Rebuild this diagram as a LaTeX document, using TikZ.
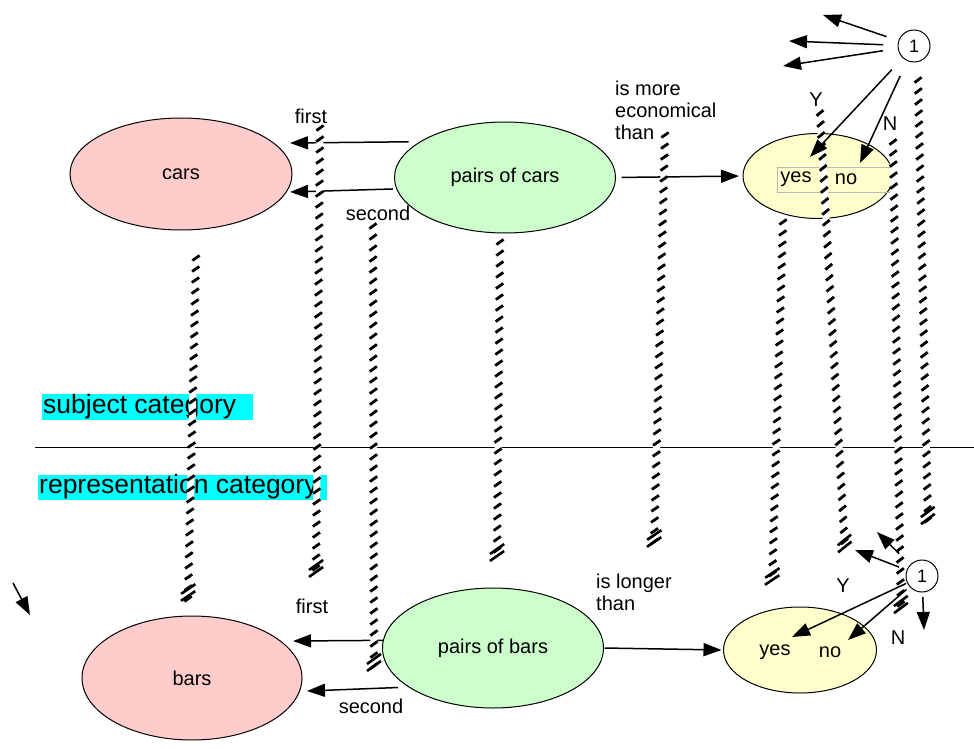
\documentclass[tikz,border=0pt]{standalone}
\usepackage{fontspec}
\setmainfont{Liberation Sans}
\usetikzlibrary{shapes.geometric,arrows.meta,decorations.markings}

\definecolor{carpink}{RGB}{255,204,204}
\definecolor{pairgreen}{RGB}{204,255,204}
\definecolor{answeryellow}{RGB}{255,255,204}
\definecolor{labelcyan}{RGB}{0,255,255}

\tikzset{
  every node/.style={font=\fontsize{20}{22}\selectfont},
  blob/.style={ellipse, draw, line width=1pt, inner sep=0pt, outer sep=0pt},
  arr/.style={-{Triangle[length=18pt,width=13pt]}, line width=1.5pt},
  hatch/.style={
    preaction={draw=white, line width=7pt},
    postaction={decorate, decoration={markings,
      mark=between positions 0 and 1 step 11pt with
        {\draw[line width=2.8pt] (2.6pt,-3.6pt) -- (-2.6pt,3.6pt);}}},
    postaction={decorate, decoration={markings,
      mark=at position 1 with
        {\draw[line width=2.6pt] (1pt,-7pt) -- (-9pt,7pt);
         \draw[line width=2.6pt] (-6pt,-7pt) -- (-16pt,7pt);}}}
  },
  num/.style={circle, draw, line width=1pt, minimum size=32pt, inner sep=0pt,
    outer sep=0pt, font=\fontsize{18}{20}\selectfont},
  catlabel/.style={anchor=base west, inner sep=0pt, font=\fontsize{26.5}{28}\selectfont},
  multiline/.style={align=left, anchor=north west, inner sep=0pt}
}

\begin{document}
\begin{tikzpicture}[x=1pt,y=-1pt]
\useasboundingbox (0,0) rectangle (974,749);

% categories and concepts
\node[blob, fill=carpink, minimum width=222pt, minimum height=112pt] (cars) at (181,174) {cars};
\node[blob, fill=pairgreen, minimum width=221pt, minimum height=111pt] (pc) at (505,177.5) {pairs of cars};
\node[blob, fill=answeryellow, minimum width=150pt, minimum height=85pt] (yn1) at (818,176) {};
\node[blob, fill=carpink, minimum width=220pt, minimum height=124pt] (bars) at (192,678) {bars};
\node[blob, fill=pairgreen, minimum width=221pt, minimum height=120pt] (pb) at (493,648) {pairs of bars};
\node[blob, fill=answeryellow, minimum width=153pt, minimum height=86pt] (yn2) at (800,650) {};

% answer texts
\draw[gray!55, line width=0.8pt] (777,167) rectangle (893,192);
\node (yes1) at (796,179) {yes};
\node (no1) at (846,179) {no};
\node (yes2) at (775,652) {yes};
\node (no2) at (830,652) {no};

% separating line and category labels
\coordinate (hl1) at (35,447);
\coordinate (hl2) at (974,447);
\draw[line width=1pt] (hl1) -- (hl2);
\fill[labelcyan] (42,394) rectangle (253,420);
\node[catlabel] (subj) at (43,413) {subject category};
\fill[labelcyan] (38,475) rectangle (327,500);
\node[catlabel] (repr) at (39,493) {representation category};

% relation labels
\node (first1) at (311,116) {first};
\node (second1) at (378,213) {second};
\node[multiline] (econ) at (615,81) {is more\\economical\\than};
\node (first2) at (312,606) {first};
\node (second2) at (371,706) {second};
\node[multiline] (longer) at (596,574) {is longer\\than};
\node (Y1) at (816,100) {Y};
\node (N1) at (890,124) {N};
\node (Y2) at (843,586) {Y};
\node (N2) at (898,638) {N};

% projections
\coordinate (f1tip) at (290,143);
\coordinate (s1tip) at (290,192);
\coordinate (f2tip) at (293,641);
\coordinate (s2tip) at (307,691);
\draw[arr, shorten <=12pt] (pc.157) -- (f1tip);
\draw[arr, shorten <=4pt] (pc.186) -- (s1tip);
\draw[arr, shorten <=6pt, shorten >=4pt] (pc.east) -- (yn1.west);
\draw[arr] (pb.176) -- (f2tip);
\draw[arr, shorten <=11pt] (pb.205) -- (s2tip);
\draw[arr, shorten <=1pt, shorten >=2pt] (pb.east) -- (yn2.west);

% mappings between the two categories
\coordinate (h1a) at (196,258); \coordinate (h1b) at (188,600);
\coordinate (h2a) at (320,128); \coordinate (h2b) at (316,576);
\coordinate (h3a) at (373,226); \coordinate (h3b) at (374,670);
\coordinate (h4a) at (500,242); \coordinate (h4b) at (497,560);
\coordinate (h5a) at (665,135); \coordinate (h5b) at (654,546);
\coordinate (h6a) at (783,222); \coordinate (h6b) at (772,584);
\coordinate (h7a) at (820,113); \coordinate (h7b) at (845,551);
\coordinate (h8a) at (893,142); \coordinate (h8b) at (901,612);
\coordinate (h9a) at (918,80);  \coordinate (h9b) at (928,523);
\foreach \k in {1,...,9}
  \path[hatch] (h\k a) -- (h\k b);

% selector nodes
\node[num] (n1) at (914,46) {1};
\coordinate (u1) at (823,15);
\coordinate (u2) at (789,41);
\coordinate (u3) at (783,66);
\coordinate (u4) at (810,157);
\coordinate (u5) at (860,163);
\draw[arr, shorten <=13pt] (n1) -- (u1);
\draw[arr, shorten <=15pt] (n1) -- (u2);
\draw[arr, shorten <=15.5pt] (n1) -- (u3);
\draw[arr, shorten <=16.5pt] (n1) -- (u4);
\draw[arr, shorten <=17pt] (n1) -- (u5);

\node[num] (n2) at (922,576) {1};
\coordinate (v1) at (877,532);
\coordinate (v2) at (855,550);
\coordinate (v3) at (792,637);
\coordinate (v4) at (848,640);
\coordinate (v5) at (924,630);
\draw[arr, shorten <=16pt] (n2) -- (v1);
\draw[arr, shorten <=8.5pt] (n2) -- (v2);
\draw[arr, shorten <=1.5pt] (n2) -- (v3);
\draw[arr, shorten <=4.5pt] (n2) -- (v4);
\draw[arr, shorten <=5pt] (n2) -- (v5);

% stray pointer at the left margin
\coordinate (p1) at (13,583);
\coordinate (p2) at (30,615);
\draw[arr] (p1) -- (p2);
\end{tikzpicture}
\end{document}
